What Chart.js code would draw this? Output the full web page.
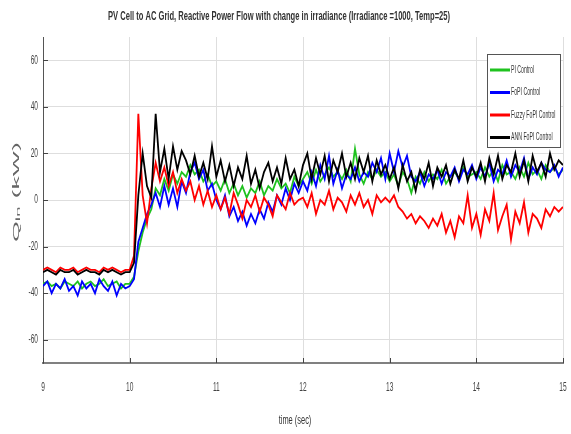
<!DOCTYPE html>
<html>
<head>
<meta charset="utf-8">
<title>PV Cell to AC Grid - Reactive Power Flow</title>
<script src="https://cdn.jsdelivr.net/npm/chart.js@4.4.1/dist/chart.umd.min.js"></script>
<style>
    html, body { margin: 0; padding: 0; background: #ffffff; }
    #wrap { width: 571px; height: 434px; }
</style>
</head>
<body>
<div id="wrap"><canvas id="q-chart" width="571" height="434"></canvas></div>
<script>
// Sample times (sec)
const time = [
    9.00, 9.05, 9.10, 9.15, 9.20, 9.25, 9.30, 9.35, 9.40, 9.45, 9.50, 9.55, 9.60, 9.65, 9.70, 9.75, 9.80, 9.85, 9.90, 9.95,
    10.00, 10.05, 10.10, 10.15, 10.20, 10.25, 10.30, 10.35, 10.40, 10.45, 10.50, 10.55, 10.60, 10.65, 10.70, 10.75, 10.80, 10.85, 10.90, 10.95,
    11.00, 11.05, 11.10, 11.15, 11.20, 11.25, 11.30, 11.35, 11.40, 11.45, 11.50, 11.55, 11.60, 11.65, 11.70, 11.75, 11.80, 11.85, 11.90, 11.95,
    12.00, 12.05, 12.10, 12.15, 12.20, 12.25, 12.30, 12.35, 12.40, 12.45, 12.50, 12.55, 12.60, 12.65, 12.70, 12.75, 12.80, 12.85, 12.90, 12.95,
    13.00, 13.05, 13.10, 13.15, 13.20, 13.25, 13.30, 13.35, 13.40, 13.45, 13.50, 13.55, 13.60, 13.65, 13.70, 13.75, 13.80, 13.85, 13.90, 13.95,
    14.00, 14.05, 14.10, 14.15, 14.20, 14.25, 14.30, 14.35, 14.40, 14.45, 14.50, 14.55, 14.60, 14.65, 14.70, 14.75, 14.80, 14.85, 14.90, 14.95, 15.00
];

// Reactive power Q_in (kW) per controller
const piControl = [
    -36, -35, -37, -36, -38, -35, -36, -37, -35, -38, -36, -35, -37, -36, -34, -37, -36, -35, -38, -36,
    -36, -33, -22, -14, -8, -4, 5, 2, 9, 4, 11, 7, 12, 10, 15, 11, 13, 8, 11, 6,
    8, 4, 9, 3, 7, 2, 6, 1, 5, 3, 8, 2, 6, 4, 9, 5, 7, 3, 10, 6,
    9, 12, 7, 13, 8, 11, 14, 10, 12, 9, 13, 8, 22, 11, 7, 12, 9, 13, 10, 12,
    8, 11, 6, 12, 9, 3, 10, 7, 12, 8, 11, 9, 13, 7, 10, 12, 9, 14, 10, 11,
    12, 9, 14, 10, 13, 8, 15, 11, 12, 9, 14, 10, 16, 11, 13, 9, 15, 12, 14, 11, 13
];
const fopiControl = [
    -37, -35, -40, -36, -38, -34, -39, -37, -41, -35, -38, -36, -40, -34, -37, -39, -35, -41, -36, -38,
    -37, -34, -18, -12, -6, -2, 3, -3, 6, -2, 5, -3, 8, 3, 12, 16, 9, 13, 4, 7,
    0, -4, 2, -7, -3, -9, -5, -11, -6, -10, -4, -8, -1, -5, 2, -2, 5, 0, 7, 3,
    8, 4, 12, 6, 15, 9, 19, 7, 13, 5, 11, 9, 14, 8, 12, 10, 16, 12, 18, 9,
    20, 12, 21, 14, 19, 10, 8, 12, 6, 11, 9, 13, 7, 12, 10, 14, 8, 13, 11, 15,
    9, 14, 10, 16, 8, 13, 11, 17, 10, 15, 12, 18, 9, 14, 11, 16, 13, 12, 15, 10, 14
];
const fuzzyControl = [
    -30, -29, -30, -31, -29, -30, -30, -29, -31, -30, -29, -30, -30, -31, -29, -30, -29, -30, -31, -30,
    -30, -24, 37, 2, -10, 5, 16, 8, 14, 6, 12, 3, 9, 4, 8, 0, 6, -2, 4, -3,
    2, -4, 1, -6, 3, -2, -8, 0, -3, 2, -5, 1, -2, -7, 2, -1, -4, 3, -2, 0,
    1, -3, 3, -6, 0, -2, 4, -4, 1, -1, -5, 2, -2, 3, -3, 0, -6, 2, -1, 1,
    -1, 2, -3, -5, -8, -6, -10, -7, -9, -12, -8, -11, -6, -14, -9, -16, -7, -10, 2, -12,
    -6, -15, -4, -9, 3, -13, -7, -2, -17, -5, -10, -1, -14, -6, -8, -12, -4, -7, -3, -5, -3
];
const annControl = [
    -31, -30, -31, -32, -30, -31, -31, -30, -32, -31, -30, -31, -31, -32, -30, -31, -30, -31, -32, -31,
    -31, -27, 2, 20, 6, 1, 37, 12, 22, 9, 23, 13, 21, 17, 11, 19, 10, 16, 9, 23,
    10, 17, 8, 15, 6, 14, 9, 19, 7, 13, 5, 12, 16, 8, 14, 7, 18, 9, 13, 6,
    15, 20, 9, 18, 11, 19, 8, 17, 12, 20, 10, 16, 9, 18, 12, 19, 8, 17, 11, 15,
    9, 14, 5, 15, 8, 12, 4, 13, 9, 16, 6, 14, 10, 15, 7, 13, 9, 17, 8, 14,
    10, 16, 8, 18, 11, 19, 9, 15, 12, 20, 10, 17, 8, 19, 12, 16, 10, 20, 13, 17, 15
];

// Tick labels
const xTicks = [9, 10, 11, 12, 13, 14, 15];
const yTicks = [-60, -40, -20, 0, 20, 40, 60];

const seriesLabels = ['PI Control', 'FoPI Control', 'Fuzzy FoPI Control', 'ANN FoPI Control'];

document.addEventListener('DOMContentLoaded', function() {
    const colors = {
        pi: '#1fc21f',
        fopi: '#0000ff',
        fuzzy: '#ff0000',
        ann: '#000000',
        grid: '#dedede',
        axis: '#555555',
        text: '#333333'
    };

    function toPoints(values) {
        return values.map(function(v, i) { return { x: time[i], y: v }; });
    }

    // draw text squeezed horizontally (the source figure is compressed)
    function squeezeText(ctx, text, x, y, font, sx, align) {
        ctx.save();
        ctx.font = font;
        ctx.translate(x, y);
        ctx.scale(sx, 1);
        ctx.textAlign = align || 'center';
        ctx.textBaseline = 'middle';
        ctx.fillText(text, 0, 0);
        ctx.restore();
    }

    const decorations = {
        id: 'decorations',
        afterDatasetsDraw: function(chart) {
            const ctx = chart.ctx;
            const area = chart.chartArea;
            const xs = chart.scales.x;
            const ys = chart.scales.y;

            // inward tick marks
            ctx.save();
            ctx.strokeStyle = '#444444';
            ctx.lineWidth = 1;
            yTicks.forEach(function(v) {
                const py = Math.round(ys.getPixelForValue(v)) + 0.5;
                ctx.beginPath();
                ctx.moveTo(area.left, py);
                ctx.lineTo(area.left + 5, py);
                ctx.stroke();
            });
            xTicks.forEach(function(v) {
                const px = Math.round(xs.getPixelForValue(v)) + 0.5;
                ctx.beginPath();
                ctx.moveTo(px, area.bottom);
                ctx.lineTo(px, area.bottom - 5);
                ctx.stroke();
            });
            ctx.restore();

            // tick labels
            ctx.save();
            ctx.fillStyle = '#444444';
            yTicks.forEach(function(v) {
                squeezeText(ctx, String(v), 38, ys.getPixelForValue(v), '12px Arial', 0.55, 'right');
            });
            xTicks.forEach(function(v) {
                squeezeText(ctx, String(v), xs.getPixelForValue(v), 388, '12px Arial', 0.55, 'center');
            });
            ctx.restore();

            // title
            ctx.save();
            ctx.fillStyle = colors.text;
            const title = 'PV Cell to AC Grid, Reactive Power Flow with change in irradiance (Irradiance =1000, Temp=25)';
            ctx.font = 'bold 12px Arial';
            const tw = ctx.measureText(title).width;
            squeezeText(ctx, title, 279, 17, 'bold 12px Arial', 342 / tw, 'center');

            // axis titles
            squeezeText(ctx, 'time (sec)', 295, 421, '12px Arial', 0.62, 'center');
            const yTitle = 'Q\u1D62\u2099 (kW)';
            ctx.font = '12px Arial';
            const yw = ctx.measureText(yTitle).width;
            ctx.translate(17, 192);
            ctx.rotate(-Math.PI / 2);
            ctx.scale(100 / yw, 0.72);
            ctx.textAlign = 'center';
            ctx.textBaseline = 'middle';
            ctx.fillStyle = '#666666';
            ctx.fillText(yTitle, 0, 0);
            ctx.restore();

            // legend box
            const box = { left: 487, top: 54, right: 560, bottom: 147 };
            ctx.save();
            ctx.fillStyle = '#ffffff';
            ctx.fillRect(box.left, box.top, box.right - box.left, box.bottom - box.top);
            ctx.strokeStyle = '#555555';
            ctx.lineWidth = 1;
            ctx.strokeRect(box.left + 0.5, box.top + 0.5, box.right - box.left, box.bottom - box.top);
            chart.data.datasets.forEach(function(ds, i) {
                const ly = 70 + i * 22.5;
                ctx.strokeStyle = ds.borderColor;
                ctx.lineWidth = 3;
                ctx.beginPath();
                ctx.moveTo(490, ly);
                ctx.lineTo(510, ly);
                ctx.stroke();
                ctx.fillStyle = colors.text;
                squeezeText(ctx, ds.label, 511, ly, '10px Arial', 0.52, 'left');
            });
            ctx.restore();
        }
    };

    const qCtx = document.getElementById('q-chart');
    new Chart(qCtx, {
        type: 'line',
        data: {
            datasets: [
                { label: seriesLabels[0], data: toPoints(piControl), borderColor: colors.pi, order: 4 },
                { label: seriesLabels[1], data: toPoints(fopiControl), borderColor: colors.fopi, order: 3 },
                { label: seriesLabels[2], data: toPoints(fuzzyControl), borderColor: colors.fuzzy, order: 2 },
                { label: seriesLabels[3], data: toPoints(annControl), borderColor: colors.ann, order: 1 }
            ]
        },
        options: {
            responsive: false,
            animation: false,
            layout: {
                padding: { top: 37, right: 8, left: 0, bottom: 0 }
            },
            elements: {
                point: { radius: 0 },
                line: { borderWidth: 1.8, tension: 0, fill: false }
            },
            plugins: {
                legend: { display: false },
                tooltip: { enabled: false }
            },
            scales: {
                x: {
                    type: 'linear',
                    min: 9,
                    max: 15,
                    afterBuildTicks: function(scale) {
                        scale.ticks = xTicks.map(function(v) { return { value: v }; });
                    },
                    afterFit: function(scale) { scale.height = 71; },
                    ticks: { display: false },
                    grid: { color: colors.grid, drawTicks: false },
                    border: { color: '#808080', width: 2 }
                },
                y: {
                    type: 'linear',
                    min: -70,
                    max: 70,
                    afterBuildTicks: function(scale) {
                        scale.ticks = yTicks.map(function(v) { return { value: v }; });
                    },
                    afterFit: function(scale) { scale.width = 43; },
                    ticks: { display: false },
                    grid: { color: colors.grid, drawTicks: false },
                    border: { color: colors.axis, width: 1 }
                }
            }
        },
        plugins: [decorations]
    });
});
</script>
</body>
</html>
